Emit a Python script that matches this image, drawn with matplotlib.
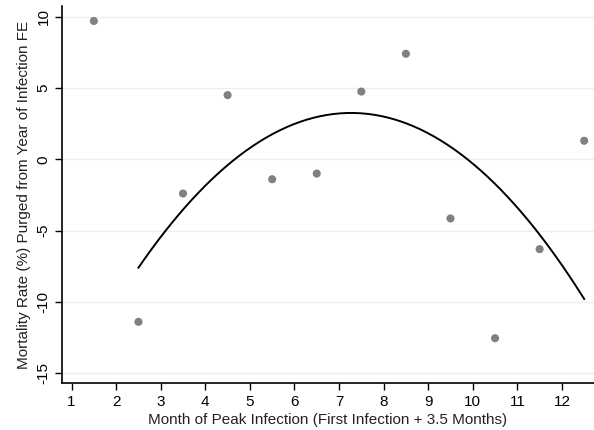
import numpy as np
import matplotlib
matplotlib.use("Agg")
import matplotlib.pyplot as plt

plt.rcParams['font.family'] = ['Liberation Sans', 'DejaVu Sans']

months = [1.5, 2.5, 3.5, 4.5, 5.5, 6.5, 7.5, 8.5, 9.5, 10.5, 11.5, 12.5]
mortality = [9.7, -11.4, -2.4, 4.5, -1.4, -1.0, 4.75, 7.4, -4.15, -12.55, -6.3, 1.3]
# quadratic fit shown (vertex form): peak month, peak value, curvature
fit_peak_x = 7.27
fit_peak_y = 3.25
fit_curv = -0.477
fit_range = [2.5, 12.5]
xticks = list(range(1, 13))
yticks = [-15, -10, -5, 0, 5, 10]

fig = plt.figure(figsize=(5.94, 4.30), dpi=100)
ax = fig.add_axes([0.104, 0.109, 0.896, 0.877])

for t in yticks:
    ax.axhline(t, color='#e8f0f2', lw=1.0, zorder=0)

ax.scatter(months, mortality, s=34, color='#808080', zorder=3, edgecolors='none')

xf = np.linspace(fit_range[0], fit_range[1], 200)
yf = fit_curv * (xf - fit_peak_x) ** 2 + fit_peak_y
ax.plot(xf, yf, color='black', lw=1.4, zorder=4)

ax.set_xlim(0.78, 12.72)
ax.set_ylim(-15.7, 10.75)
ax.set_xticks(xticks)
ax.set_yticks(yticks)
ax.set_yticklabels([str(t) for t in yticks], rotation=90, va='center')
ax.tick_params(axis='both', direction='out', length=5, width=1, labelsize=11, colors='black')
ax.tick_params(axis='y', pad=3)

for s in ['top', 'right']:
    ax.spines[s].set_visible(False)
for s in ['left', 'bottom']:
    ax.spines[s].set_linewidth(1.2)

ax.set_xlabel('Month of Peak Infection (First Infection + 3.5 Months)', fontsize=11, labelpad=3, color='#222222')
ax.set_ylabel('Mortality Rate (%) Purged from Year of Infection FE', fontsize=11, labelpad=4, color='#222222')

fig.savefig('out.png', dpi=100)
